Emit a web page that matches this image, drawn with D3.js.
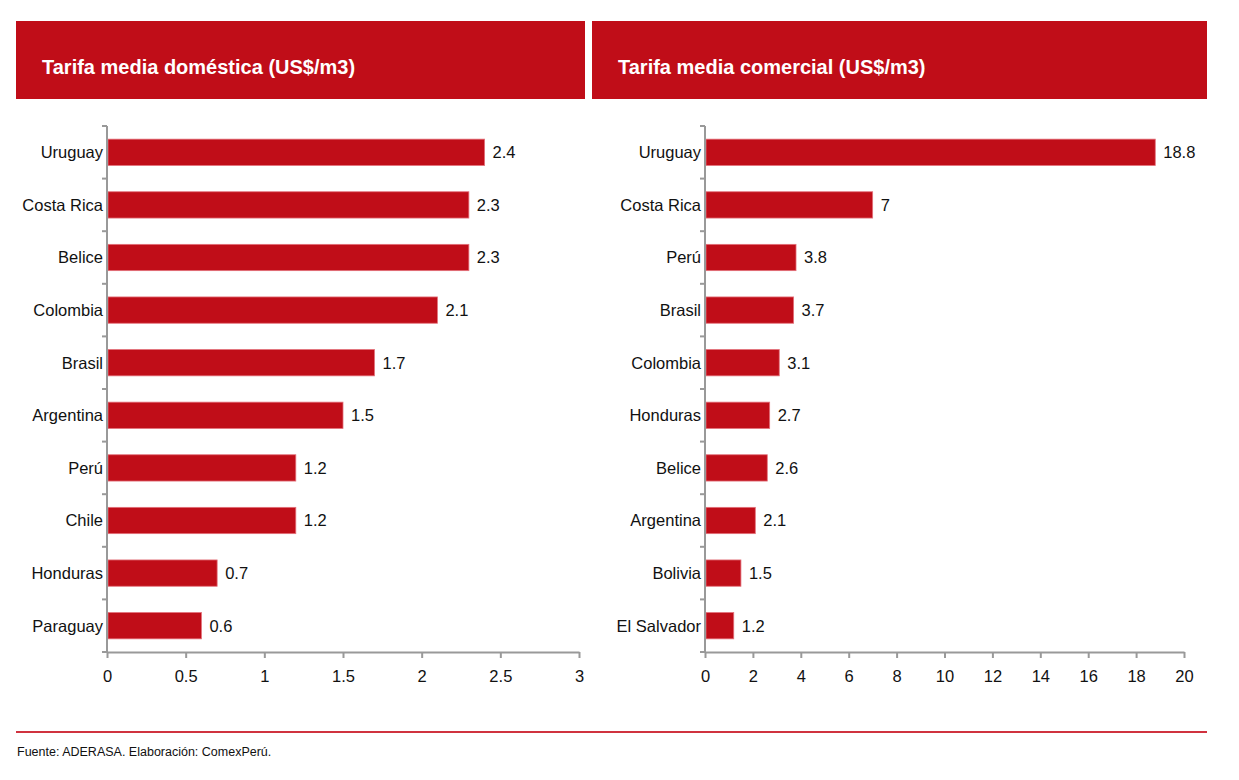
<!DOCTYPE html>
<html>
<head>
<meta charset="utf-8">
<script src="https://cdn.jsdelivr.net/npm/d3@7"></script>
<style>
    body { margin: 0; background: #fff; }
    svg { display: block; font-family: "Liberation Sans", Arial, sans-serif; }
    .axis path, .axis line { stroke: #999; stroke-width: 2; }
    .axis text { font-size: 16.5px; fill: #111; }
</style>
</head>
<body>
<div id="chart"></div>
<script>
// Data
const domCountries = ["Uruguay", "Costa Rica", "Belice", "Colombia", "Brasil", "Argentina", "Perú", "Chile", "Honduras", "Paraguay"];
const domValues = [2.4, 2.3, 2.3, 2.1, 1.7, 1.5, 1.2, 1.2, 0.7, 0.6];
const comCountries = ["Uruguay", "Costa Rica", "Perú", "Brasil", "Colombia", "Honduras", "Belice", "Argentina", "Bolivia", "El Salvador"];
const comValues = [18.8, 7, 3.8, 3.7, 3.1, 2.7, 2.6, 2.1, 1.5, 1.2];
const domTicks = [0, 0.5, 1, 1.5, 2, 2.5, 3];
const comTicks = [0, 2, 4, 6, 8, 10, 12, 14, 16, 18, 20];

const canvas = { w: 1239, h: 780 };
const red = "#c00d18";

const svg = d3.select("#chart")
    .append("svg")
    .attr("width", canvas.w)
    .attr("height", canvas.h);

// One panel: header band + horizontal bar chart
function drawPanel(opts) {
    const { title, names, values, ticks, max, header, plot } = opts;

    svg.append("rect")
        .attr("x", header.x)
        .attr("y", 21)
        .attr("width", header.w)
        .attr("height", 78)
        .attr("fill", red);

    svg.append("text")
        .attr("x", header.x + 26)
        .attr("y", 74)
        .attr("fill", "#fff")
        .attr("font-size", 20)
        .attr("font-weight", "bold")
        .text(title);

    const x = d3.scaleLinear().domain([0, max]).range([plot.x0, plot.x1]);
    const y = d3.scaleBand().domain(names).range([126, 652]).paddingInner(0.5).paddingOuter(0.25);

    const rows = names.map((n, i) => ({ name: n, value: values[i] }));

    // bars
    svg.append("g")
        .selectAll("rect")
        .data(rows)
        .join("rect")
        .attr("x", x(0) + 1)
        .attr("y", d => y(d.name))
        .attr("width", d => x(d.value) - x(0) - 1)
        .attr("height", y.bandwidth())
        .attr("fill", red)
        .attr("stroke", "#e3707a")
        .attr("stroke-width", 0.8);

    // value labels
    svg.append("g")
        .selectAll("text")
        .data(rows)
        .join("text")
        .attr("x", d => x(d.value) + 8)
        .attr("y", d => y(d.name) + y.bandwidth() / 2)
        .attr("dy", "0.36em")
        .attr("font-size", 16.5)
        .attr("fill", "#111")
        .text(d => d.value);

    // x axis
    svg.append("g")
        .attr("class", "axis")
        .attr("transform", "translate(0,652)")
        .call(d3.axisBottom(x).tickValues(ticks).tickSize(6).tickSizeOuter(0).tickPadding(12))
        .call(g => g.selectAll("text").text(d => d));

    // y axis with ticks between categories
    const yAxis = svg.append("g")
        .attr("class", "axis")
        .attr("transform", `translate(${plot.x0},0)`);
    yAxis.append("line")
        .attr("y1", 126).attr("y2", 652);
    yAxis.selectAll(".sep")
        .data(d3.range(names.length + 1))
        .join("line")
        .attr("class", "sep")
        .attr("x1", -5).attr("x2", 0)
        .attr("y1", i => 126 + i * y.step())
        .attr("y2", i => 126 + i * y.step());
    yAxis.selectAll("text")
        .data(names)
        .join("text")
        .attr("x", -4)
        .attr("y", d => y(d) + y.bandwidth() / 2)
        .attr("dy", "0.36em")
        .attr("text-anchor", "end")
        .text(d => d);
}

drawPanel({
    title: "Tarifa media doméstica (US$/m3)",
    names: domCountries,
    values: domValues,
    ticks: domTicks,
    max: 3,
    header: { x: 16, w: 569 },
    plot: { x0: 107, x1: 579 }
});

drawPanel({
    title: "Tarifa media comercial (US$/m3)",
    names: comCountries,
    values: comValues,
    ticks: comTicks,
    max: 20,
    header: { x: 592, w: 615 },
    plot: { x0: 705, x1: 1184 }
});

// footer
svg.append("line")
    .attr("x1", 16).attr("x2", 1207)
    .attr("y1", 732).attr("y2", 732)
    .attr("stroke", "#d0323f")
    .attr("stroke-width", 2);

svg.append("text")
    .attr("x", 17)
    .attr("y", 756)
    .attr("font-size", 12.5)
    .attr("fill", "#111")
    .text("Fuente: ADERASA. Elaboración: ComexPerú.");
</script>
</body>
</html>
